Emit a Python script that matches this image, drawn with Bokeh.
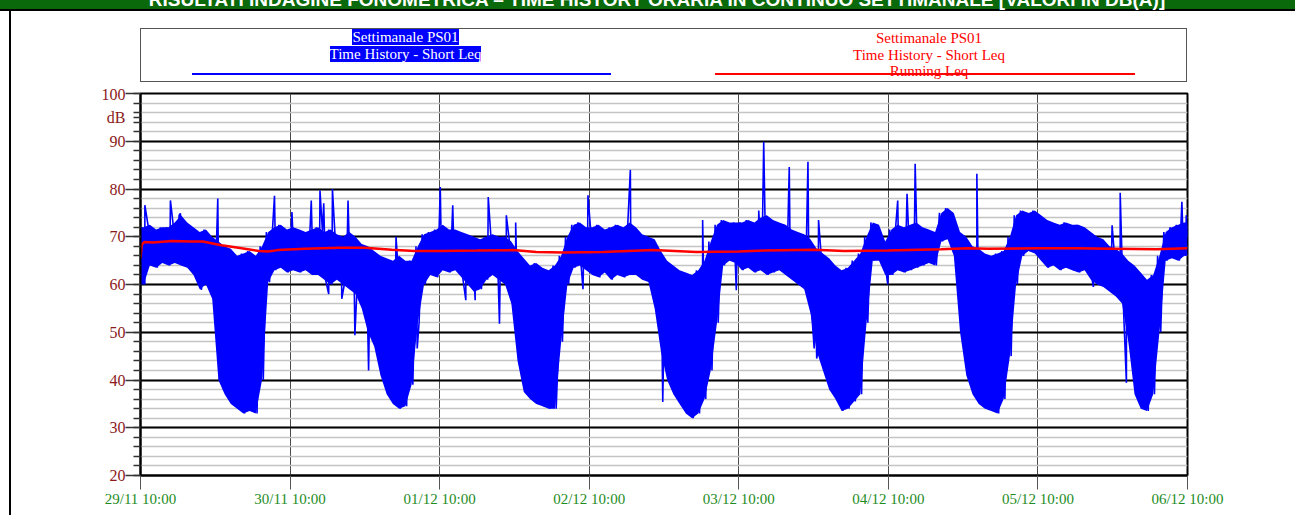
from bokeh.plotting import figure
from bokeh.models import Range1d, FixedTicker, Div
from bokeh.layouts import column
from bokeh.embed import file_html
from bokeh.resources import INLINE

# ---------------- data (hours from 29/11 10:00) ----------------
# hourly upper / lower envelope of the short Leq time history [dB]
upper = [
    72, 72.5, 71.5, 72, 72, 73, 74.5, 73, 72, 71, 71.5, 70, 69, 68, 67.5, 66, 66.5, 67, 66, 68, 71, 72, 72.5, 71.5,
    72, 71.5, 71, 71.5, 72, 71, 71.5, 70.5, 70, 71, 70, 68.5, 68, 67, 66, 65.5, 65, 66, 65, 65, 68, 70.5, 71, 71.5,
    72.5, 71.5, 71.5, 71, 70.5, 70, 69.5, 70, 70.5, 70, 70, 69, 67, 65.5, 64, 64.5, 63.5, 63, 64, 66, 70, 72.5, 73, 72,
    72, 72.5, 71.5, 72, 72.5, 72, 73, 72, 70.5, 70, 69.5, 67, 65, 64, 63, 62.5, 62, 63, 65, 69, 72.5, 73.5, 73, 73,
    73, 73.5, 73, 74, 74.5, 73.5, 73, 72.5, 71.5, 71, 70.5, 69.5, 67.5, 66.5, 65.5, 64, 63, 63.5, 65, 66.5, 70, 73, 72.5, 69,
    71.5, 72.5, 72, 72.5, 73, 72, 71.5, 71, 75, 76, 75, 71, 70, 68, 67.5, 66.5, 66, 66.5, 67, 70, 74.5, 75.5, 75, 75.5,
    74.5, 73.5, 73, 72.5, 73, 72.5, 72.5, 72, 71, 70, 69.5, 68, 67.5, 66.5, 65, 64, 62.5, 61, 62, 66, 71, 72, 72.5, 73,
]
lower = [
    60, 64, 63.5, 64.5, 64, 64.5, 64, 63.5, 62, 59, 60, 57, 40, 37, 35, 34, 33, 33.5, 33, 40, 60.5, 63, 63.5, 62.5,
    63, 62.5, 63, 62, 62, 61, 60, 61, 60, 59, 58, 55, 50, 47, 41, 37, 35, 34, 34.5, 39, 52, 60, 62, 61.5,
    63, 62.5, 63, 61.5, 60, 58.5, 59, 61, 62, 61, 60, 56, 44, 37.5, 36, 35, 34.5, 34, 34, 48, 60, 63.5, 64, 63,
    62, 61.5, 62.5, 61, 62, 61.5, 62, 62, 61, 60.5, 55, 46, 40, 37, 35, 33, 32, 33, 36, 42, 52, 64, 65, 64.5,
    63, 63.5, 62.5, 63, 62, 62.5, 63, 62, 61, 60, 59, 54, 46, 42, 38, 36, 33.5, 34, 35.5, 37, 52, 65, 65, 62,
    62, 63, 62.5, 63, 63.5, 64, 64.5, 64, 69, 69.5, 66, 50, 41, 37, 35, 34, 33.5, 33, 36, 45, 60, 66, 67, 66.5,
    65, 63.5, 64, 63, 63.5, 63, 62.5, 63, 61, 60, 59.5, 58.5, 57.5, 56, 48, 37, 34, 33.5, 37, 50, 65, 65.5, 65, 66,
]
start_value = 62
end_value = 70

# isolated peaks and dips
spike_t = [0.7, 4.8, 6.4, 12.4, 21.5, 24.3, 27.4, 28.8, 29.4, 30.8, 33.3, 41.0, 48.1,
           50.1, 55.8, 58.7, 60.2, 71.8, 78.6, 90.2,
           99.2, 100.0, 104.1, 107.1, 108.8, 121.5, 123.0, 124.3, 134.2,
           155.9, 157.2, 167.1, 167.8]
spike_v = [76.6, 77.6, 74.9, 78.0, 78.6, 75.2, 77.6, 79.7, 77.0, 80.0, 77.6, 70.0, 80.4,
           76.6, 78.3, 74.5, 73.0, 78.7, 84.0, 73.5,
           75.5, 89.9, 84.6, 85.7, 73.5, 77.6, 79.0, 85.3, 83.2,
           72.4, 79.2, 77.3, 74.5]
dip_t = [0.1, 9.8, 30.2, 32.3, 34.4, 36.6, 44.4, 52.2, 53.7, 57.6, 67.2, 71.0,
         83.8, 95.6, 104.5, 108.1, 108.5, 119.9, 152.9, 158.2]
dip_v = [60.0, 59.0, 58.0, 57.0, 49.4, 42.0, 46.6, 56.7, 56.7, 51.8, 51.5, 59.0,
         35.4, 58.8, 61.5, 46.6, 44.5, 60.0, 59.5, 39.4]

# running Leq
red_t = [0, 0.2, 0.6, 2, 5, 8, 10, 13, 15.7, 19, 20.5, 22, 26.4, 31.8, 36, 40.3, 44, 48, 54, 59.8,
         63.5, 67.8, 74.2, 82.2, 89.2, 96, 100.1, 108.1, 112.9, 119.9, 128.5, 132.7, 136, 144,
         150, 156, 163, 168]
red_v = [65.5, 68.3, 68.9, 68.8, 69.1, 69.0, 69.0, 68.2, 67.7, 67.0, 66.9, 67.2, 67.5, 67.7, 67.7, 67.3, 67.0, 67.0, 67.1, 67.2,
         66.8, 66.7, 66.8, 67.2, 66.8, 66.9, 67.1, 67.3, 67.0, 67.1, 67.4, 67.6, 67.5, 67.6,
         67.6, 67.5, 67.4, 67.6]

day_ticks = [0, 24, 48, 72, 96, 120, 144, 168]
day_labels = ["29/11 10:00", "30/11 10:00", "01/12 10:00", "02/12 10:00",
              "03/12 10:00", "04/12 10:00", "05/12 10:00", "06/12 10:00"]
y_major = list(range(20, 101, 10))
y_even = list(range(20, 101, 2))
y_unit_pos = 95
y_unit = "dB"

banner_text = "RISULTATI INDAGINE FONOMETRICA \u2013 TIME HISTORY ORARIA IN CONTINUO SETTIMANALE [VALORI IN DB(A)]"
legend_a = ["Settimanale PS01", "Time History - Short Leq"]
legend_b = ["Settimanale PS01", "Time History - Short Leq", "Running Leq"]

W = 1295
SERIF = "Liberation Serif"
BLUE = "#0000FF"
RED = "#FF0000"

# ---------------- header (banner + legend) as HTML ----------------
def box(l, t, w, h, css):
    return (f'<div style="position:absolute;left:{l}px;top:{t}px;width:{w}px;height:{h}px;{css}"></div>')

la = "<br>".join(f'<span style="background:{BLUE};">{s}</span>' for s in legend_a)
lb = "<br>".join(legend_b)
header_html = (
    f'<div style="position:relative;width:{W}px;height:85px;overflow:hidden;">'
    + box(0, 0, W, 8.5, "background:#0A690A;")
    + box(0, 8.5, W, 2, "background:#000;")
    + f'<div style="position:absolute;left:0;top:-10.5px;width:1314px;text-align:center;color:#fff;'
      f'font-family:\'Liberation Sans\';font-weight:bold;font-size:19px;line-height:19px;white-space:nowrap;">'
      f'{banner_text}</div>'
    + box(140, 28, 1047, 54, "box-sizing:border-box;border:1.5px solid #555;background:#fff;")
    + f'<div style="position:absolute;left:205.5px;top:29px;width:400px;text-align:center;color:#fff;'
      f'font-family:\'{SERIF}\';font-size:15px;line-height:16.5px;white-space:nowrap;">{la}</div>'
    + box(192, 73.3, 419, 2, f"background:{BLUE};")
    + f'<div style="position:absolute;left:729px;top:30px;width:400px;text-align:center;color:{RED};'
      f'font-family:\'{SERIF}\';font-size:15px;line-height:16.5px;white-space:nowrap;">{lb}</div>'
    + box(715, 73.3, 420, 2, f"background:{RED};")
    + '</div>'
)
header = Div(text=header_html, width=W, height=85, margin=(0, 0, 0, 0))

# ---------------- main chart ----------------
p = figure(width=W, height=430, x_range=Range1d(0, 168), y_range=Range1d(20, 100),
           output_backend="svg", toolbar_location=None,
           min_border_left=140, min_border_right=108, min_border_top=8, min_border_bottom=40)
p.border_fill_color = None
p.background_fill_color = "white"
p.outline_line_color = "black"
p.outline_line_width = 2

p.xaxis.ticker = FixedTicker(ticks=day_ticks, minor_ticks=[])
p.xaxis.major_label_overrides = {t: lab for t, lab in zip(day_ticks, day_labels)}
p.xaxis.major_label_text_color = "#1E8C1E"
p.xaxis.major_label_text_font = SERIF
p.xaxis.major_label_text_font_size = "15px"
p.xaxis.major_tick_out = 14
p.xaxis.major_tick_in = 0
p.xaxis.major_tick_line_color = "#555555"
p.xaxis.minor_tick_line_color = None
p.xaxis.axis_line_color = "black"
p.xaxis.axis_line_width = 2
p.xaxis.major_label_standoff = 1

# y axis: short ticks every 2 dB (+ unit label position), long ticks every 10 dB
p.yaxis.ticker = FixedTicker(ticks=sorted(y_even + [y_unit_pos]), minor_ticks=y_major)
overrides = {v: (str(v) if v in y_major else "") for v in y_even}
overrides[y_unit_pos] = y_unit
p.yaxis.major_label_overrides = overrides
p.yaxis.major_label_text_color = "#8B1A1A"
p.yaxis.major_label_text_font = SERIF
p.yaxis.major_label_text_font_size = "16px"
p.yaxis.major_tick_out = 7
p.yaxis.major_tick_in = 0
p.yaxis.minor_tick_out = 15
p.yaxis.minor_tick_in = 0
p.yaxis.major_tick_line_color = "#333333"
p.yaxis.minor_tick_line_color = "#333333"
p.yaxis.major_tick_line_width = 1.5
p.yaxis.minor_tick_line_width = 1.5
p.yaxis.axis_line_color = "black"
p.yaxis.axis_line_width = 2
p.yaxis.major_label_standoff = 0

p.xgrid.grid_line_color = "#4a4a4a"
p.xgrid.grid_line_width = 1
p.ygrid.ticker = FixedTicker(ticks=y_major, minor_ticks=y_even)
p.ygrid.grid_line_color = "black"
p.ygrid.grid_line_width = 2
p.ygrid.minor_grid_line_color = "#c4c4c4"
p.ygrid.minor_grid_line_width = 1.3

# blue time history: filled hourly envelope + zigzag through it + isolated peaks/dips
hours_c = [i + 0.5 for i in range(len(upper))]
p.varea(x=[0.0] + hours_c + [168.0], y1=[lower[0]] + lower + [lower[-1]],
        y2=[upper[0]] + upper + [upper[-1]], fill_color=BLUE, fill_alpha=1)
pts = [(0.0, start_value), (168.0, end_value)]
for i, (u, l) in enumerate(zip(upper, lower)):
    pts.append((i + 0.2, u))
    pts.append((i + 0.7, l))
pts += list(zip(spike_t, spike_v)) + list(zip(dip_t, dip_v))
pts.sort()
p.line([a for a, _ in pts], [b for _, b in pts], line_color=BLUE, line_width=1.6)

p.line(red_t, red_v, line_color=RED, line_width=2.5)

layout = column(header, p, styles={
    "background": "linear-gradient(90deg, #fff 0px, #fff 9.5px, #000 9.5px, #000 11px, #fff 11px)"})
open("out.html", "w").write(file_html(layout, INLINE))
